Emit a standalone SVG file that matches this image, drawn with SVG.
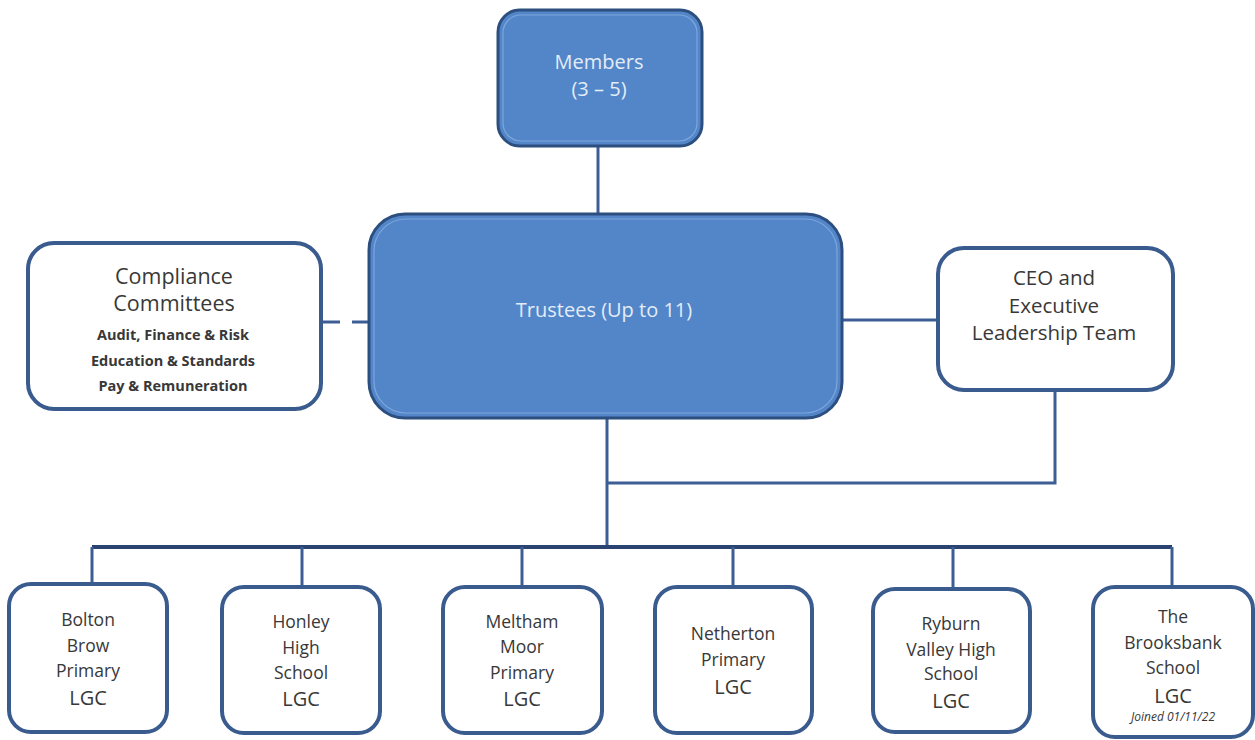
<svg xmlns="http://www.w3.org/2000/svg" width="1255" height="740" viewBox="0 0 1255 740">
<defs>
<style>
.blue{fill:#5286c8;stroke:#2d4f80;stroke-width:3}
.bevel{fill:none;stroke:#7ea6dc;stroke-width:1.2}
.white{fill:#ffffff;stroke:#3a5b8e;stroke-width:4}
.conn{fill:none;stroke:#3d5e95;stroke-width:3}
.bus{fill:none;stroke:#2a4370;stroke-width:4}
.dash{fill:none;stroke:#3d5e95;stroke-width:3;stroke-dasharray:18 12}
.lt{font-family:"Open Sans","Noto Sans","Liberation Sans",sans-serif;fill:#e3ecf7;text-anchor:middle}
.dk{font-family:"Open Sans","Noto Sans","Liberation Sans",sans-serif;fill:#383838;text-anchor:middle}
.b{font-weight:bold;font-size:14.5px}
.n{font-size:17.5px}
.g{font-size:20px}
</style>
</defs>
<rect width="1255" height="740" fill="#ffffff"/>
<g id="connectors">
<path class="conn" d="M598,146 V214"/>
<path class="conn" d="M842,320 H938"/>
<path class="dash" d="M322,322 H370"/>
<path class="conn" d="M1055,390 V483 H607"/>
<path class="conn" d="M607,418 V547"/>
<path class="bus" d="M92,547 H1172"/>
<path class="conn" d="M92,547 V584 M302,547 V587 M522,547 V587 M733,547 V587 M953,547 V589 M1172,547 V587"/>
</g>
<g id="members">
<rect class="blue" x="498" y="10" width="204" height="136" rx="22"/>
<rect class="bevel" x="503" y="15" width="194" height="126" rx="18"/>
<text class="lt" x="599" y="69" font-size="20">Members</text>
<text class="lt" x="599" y="96" font-size="20">(3 – 5)</text>
</g>
<g id="trustees">
<rect class="blue" x="369" y="214" width="473" height="204" rx="36"/>
<rect class="bevel" x="374" y="219" width="463" height="194" rx="32"/>
<text class="lt" x="604" y="317" font-size="20">Trustees (Up to 11)</text>
</g>
<g id="compliance">
<rect class="white" x="28" y="243" width="293" height="166" rx="26"/>
<text class="dk" x="174" y="284" font-size="21.5">Compliance</text>
<text class="dk" x="174" y="311" font-size="21.5">Committees</text>
<text class="dk b" x="173" y="340">Audit, Finance &amp; Risk</text>
<text class="dk b" x="173" y="366">Education  &amp; Standards</text>
<text class="dk b" x="173" y="391">Pay &amp; Remuneration</text>
</g>
<g id="ceo">
<rect class="white" x="938" y="248" width="235" height="142" rx="26"/>
<text class="dk" x="1054" y="285" font-size="20.5">CEO and</text>
<text class="dk" x="1054" y="313" font-size="20.5">Executive</text>
<text class="dk" x="1054" y="340" font-size="20.5">Leadership Team</text>
</g>
<g id="bolton">
<rect class="white" x="9" y="584" width="158" height="148" rx="22"/>
<text class="dk n" x="88" y="626">Bolton</text>
<text class="dk n" x="88" y="652">Brow</text>
<text class="dk n" x="88" y="677">Primary</text>
<text class="dk g" x="88" y="705">LGC</text>
</g>
<g id="honley">
<rect class="white" x="222" y="587" width="158" height="146" rx="22"/>
<text class="dk n" x="301" y="628">Honley</text>
<text class="dk n" x="301" y="654">High</text>
<text class="dk n" x="301" y="679">School</text>
<text class="dk g" x="301" y="706">LGC</text>
</g>
<g id="meltham">
<rect class="white" x="443" y="587" width="159" height="146" rx="22"/>
<text class="dk n" x="522" y="628">Meltham</text>
<text class="dk n" x="522" y="653">Moor</text>
<text class="dk n" x="522" y="679">Primary</text>
<text class="dk g" x="522" y="706">LGC</text>
</g>
<g id="netherton">
<rect class="white" x="655" y="587" width="157" height="146" rx="22"/>
<text class="dk n" x="733" y="640">Netherton</text>
<text class="dk n" x="733" y="666">Primary</text>
<text class="dk g" x="733" y="694">LGC</text>
</g>
<g id="ryburn">
<rect class="white" x="873" y="589" width="157" height="143" rx="22"/>
<text class="dk n" x="951" y="630">Ryburn</text>
<text class="dk n" x="951" y="656">Valley High</text>
<text class="dk n" x="951" y="680">School</text>
<text class="dk g" x="951" y="708">LGC</text>
</g>
<g id="brooksbank">
<rect class="white" x="1093" y="587" width="160" height="150" rx="22"/>
<text class="dk n" x="1173" y="623">The</text>
<text class="dk n" x="1173" y="649">Brooksbank</text>
<text class="dk n" x="1173" y="674">School</text>
<text class="dk g" x="1173" y="703">LGC</text>
<text class="dk" x="1173" y="721" font-size="12" font-style="italic">Joined 01/11/22</text>
</g>
</svg>
